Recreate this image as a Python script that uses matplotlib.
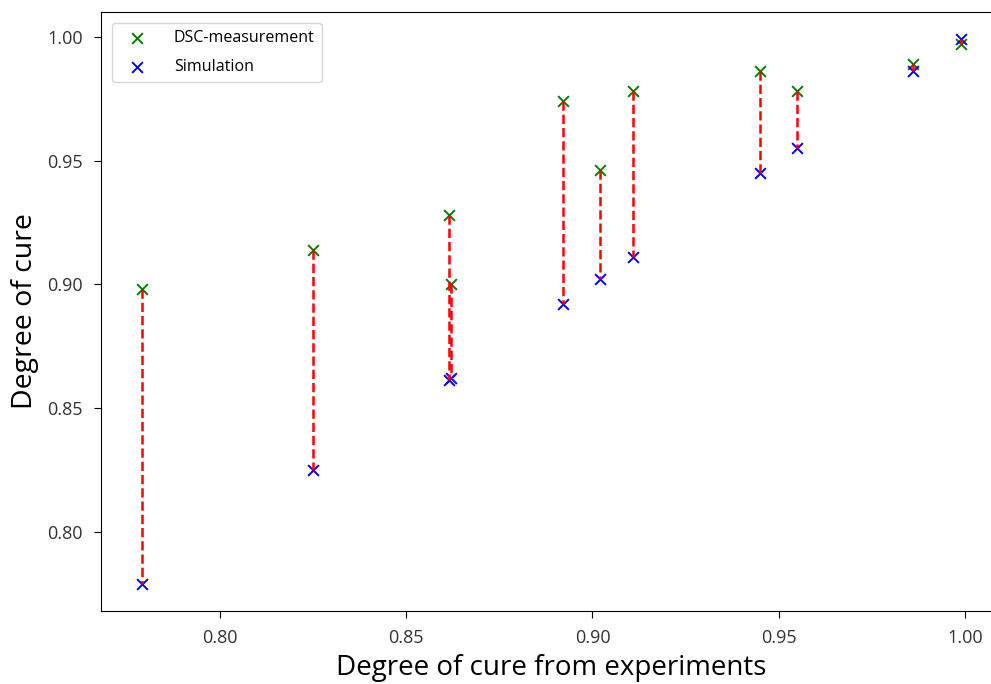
import matplotlib
matplotlib.use('Agg')
import matplotlib.pyplot as plt

# 实验值（横轴）与两组纵轴数据
x_exp = [0.779, 0.825, 0.8615, 0.862, 0.892, 0.902, 0.911, 0.945, 0.955, 0.986, 0.999]
y_dsc = [0.898, 0.914, 0.928, 0.900, 0.974, 0.946, 0.978, 0.986, 0.978, 0.989, 0.997]
y_sim = [0.779, 0.825, 0.8615, 0.862, 0.892, 0.902, 0.911, 0.945, 0.955, 0.986, 0.999]

plt.rcParams['font.family'] = ['Open Sans', 'DejaVu Sans']

fig = plt.figure(figsize=(9.91, 6.84), dpi=100)
ax = fig.add_axes([101 / 991, 73 / 684, 901 / 991, 599 / 684])

ax.scatter(x_exp, y_dsc, marker='x', color='green', s=60, linewidths=1.4, label='DSC-measurement')
ax.scatter(x_exp, y_sim, marker='x', color='blue', s=60, linewidths=1.4, label='Simulation')

# 红色虚线连接同一实验点的两个值
for xi, a, b in zip(x_exp, y_dsc, y_sim):
    ax.plot([xi, xi], [a, b], color='red', linestyle='--', linewidth=1.8, zorder=3)

ax.set_xticks([0.80, 0.85, 0.90, 0.95, 1.00])
ax.set_yticks([0.80, 0.85, 0.90, 0.95, 1.00])
ax.tick_params(labelsize=13, length=5, pad=8, labelcolor='#333333')
ax.set_xlabel('Degree of cure from experiments', fontsize=20, labelpad=5)
ax.set_ylabel('Degree of cure', fontsize=20.5, labelpad=6)
ax.legend(loc='upper left', fontsize=11.5, labelspacing=0.8, handletextpad=1.2,
          borderpad=0.45, borderaxespad=0.7, handlelength=2.2)

fig.savefig('out.png', dpi=100)
